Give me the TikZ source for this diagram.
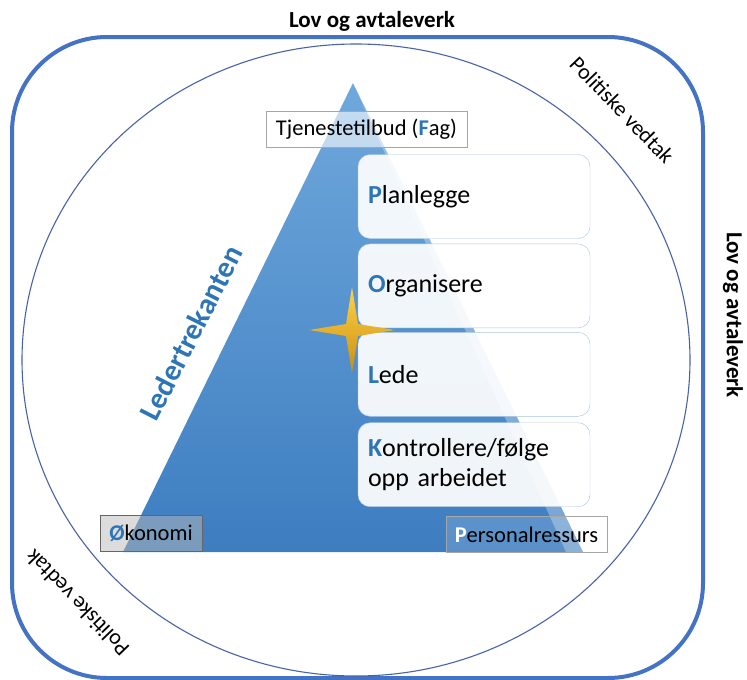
\documentclass[tikz,border=0pt]{standalone}
\usepackage{fontspec}
\setmainfont{Carlito}
\usepackage{tikz}
\usetikzlibrary{positioning}

\definecolor{frameblue}{HTML}{4472C4}
\definecolor{ringblue}{HTML}{4A63A8}
\definecolor{letterblue}{HTML}{2E75B6}
\definecolor{tritop}{HTML}{6FA8DC}
\definecolor{tribottom}{HTML}{3D7DC0}
\definecolor{boxline}{HTML}{A9C4E0}
\definecolor{goldtop}{HTML}{FFD34A}
\definecolor{goldbottom}{HTML}{C98E10}

\newcommand{\initial}[2][letterblue]{\textcolor{#1}{\textbf{#2}}}

\tikzset{
  taskbox/.style={draw=boxline, rounded corners=12pt, fill=white, fill opacity=0.92,
    text opacity=1, text width=212pt, inner xsep=10pt, align=left,
    minimum height=84pt, font=\fontsize{26}{30}\selectfont},
  cornerbox/.style={draw=gray!70, fill=white, fill opacity=0.6, text opacity=1,
    inner sep=5pt, minimum height=36pt, font=\fontsize{22.5}{26}\selectfont},
  outerlabel/.style={font=\fontsize{22}{26}\selectfont}
}

\begin{document}
\begin{tikzpicture}[x=1pt,y=-1pt]
                \useasboundingbox (0,0) rectangle (747,680);
                % ramme og ring
                \draw[frameblue, line width=4pt, rounded corners=95pt] (12,37) rectangle (703,678);
                \draw[ringblue, line width=1.1pt] (356,360) ellipse (334 and 316);
                % trekanten
                \coordinate (top) at (353,83);
                \coordinate (bl) at (123,552);
                \coordinate (br) at (583,552);
                \shade[top color=tritop, bottom color=tribottom] (top) -- (bl) -- (br) -- cycle;
                \fill[white, opacity=0.3] (top) -- (br) -- (566,552) -- cycle;
                \node[rotate=63, text=letterblue, font=\bfseries\fontsize{30}{34}\selectfont] (leder) at (191,333) {Ledertrekanten};
                % hjørnene
                \node[cornerbox, minimum width=201pt] (fag) at (366.5,129) {Tjenestetilbud (\initial{F}ag)};
                \node[cornerbox, draw=gray!80!black, fill=gray!55, fill opacity=0.5, minimum width=102pt] (okonomi) at (151,533.5) {\initial{Ø}konomi};
                \node[cornerbox, fill opacity=0.15, minimum width=161pt] (personal) at (526.5,534.5) {\initial[white]{P}ersonalressurs};
                % oppgavene
                \node[taskbox] (plan) at (474,196.5) {\initial{P}lanlegge};
                \node[taskbox, below=5pt of plan] (org) {\initial{O}rganisere};
                \node[taskbox, below=4pt of org] (lede) {\initial{L}ede};
                \node[taskbox, below=6pt of lede] (kontroll) {\initial{K}ontrollere/følge\\opp arbeidet};
                % stjerna
                \shade[top color=goldtop, bottom color=goldbottom]
                  (309,330) -- (346,324) -- (352,287) -- (358,324) -- (395,330)
                  -- (358,336) -- (352,373) -- (346,336) -- cycle;
                % lov og vedtak
                \node[outerlabel, font=\bfseries\fontsize{23}{27}\selectfont] (lovtop) at (372,21) {Lov og avtaleverk};
                \node[outerlabel, font=\bfseries\fontsize{23}{27}\selectfont, rotate=-90] (lovside) at (733,315) {Lov og avtaleverk};
                \node[outerlabel, rotate=-46] (vedtaktop) at (622,110) {Politiske vedtak};
                \node[outerlabel, rotate=134] (vedtakbottom) at (77,603) {Politiske vedtak};
            \end{tikzpicture}
\end{document}
